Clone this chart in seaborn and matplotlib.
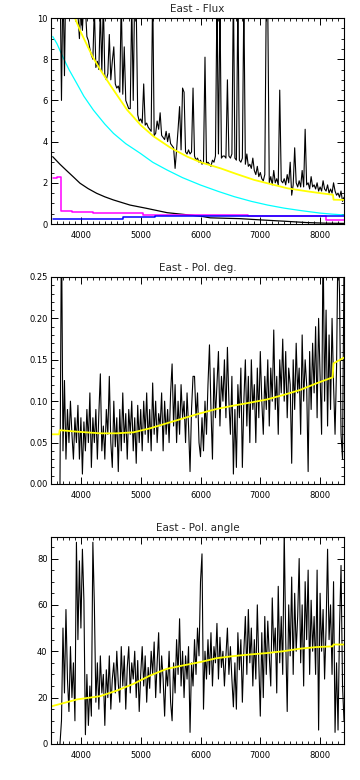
import numpy as np
import matplotlib
matplotlib.use("Agg")
import matplotlib.pyplot as plt
import seaborn as sns
from matplotlib.ticker import MultipleLocator, FormatStrFormatter

# wavelength grid of the observed spectra (Angstrom)
wave = np.arange(3650, 8401, 25)

# East - Flux : observed spectrum
flux = [12.5, 6.0, 12.0, 7.2, 12.5, 13.0, 12.0, 12.5, 11.5, 11.0,
        10.8, 10.4, 10.2, 9.0, 10.6, 9.4, 11.0, 10.5, 9.1, 8.9,
        8.5, 8.2, 8.0, 10.5, 7.6, 7.9, 7.5, 10.4, 7.4, 10.8,
        7.2, 7.0, 7.3, 9.2, 7.0, 7.9, 8.6, 6.8, 6.6, 6.7,
        6.4, 11.0, 6.3, 8.6, 6.0, 5.8, 5.6, 5.6, 10.8, 6.0,
        11.5, 10.6, 5.3, 5.0, 5.1, 4.9, 6.8, 4.8, 4.9, 4.7,
        4.6, 4.5, 11.5, 4.3, 4.4, 5.0, 4.6, 5.4, 4.3, 4.2,
        4.1, 4.5, 4.0, 4.4, 3.9, 3.8, 3.7, 2.7, 3.6, 4.6,
        5.7, 3.6, 6.6, 6.4, 3.5, 3.4, 3.6, 3.4, 3.5, 6.6,
        3.3, 3.1, 3.2, 3.0, 3.1, 2.9, 3.0, 8.1, 2.9, 3.0,
        2.9, 2.8, 3.1, 3.0, 3.3, 11.0, 3.4, 11.0, 3.2, 3.3,
        3.3, 3.2, 7.0, 3.3, 3.2, 3.4, 11.5, 3.2, 3.1, 11.0,
        3.1, 3.0, 3.2, 11.0, 2.9, 3.4, 2.8, 2.9, 2.7, 3.2,
        2.6, 2.4, 2.8, 2.3, 2.5, 2.2, 2.1, 2.4, 11.0, 10.5,
        2.0, 2.3, 1.9, 2.6, 2.0, 2.2, 1.9, 6.5, 2.1, 2.0,
        2.2, 1.9, 2.4, 2.0, 3.0, 1.4, 1.9, 3.7, 2.0, 1.8,
        2.1, 1.8, 2.6, 1.8, 4.6, 1.9, 2.0, 1.7, 2.3, 1.8,
        1.9, 1.7, 2.0, 1.6, 1.8, 1.6, 2.1, 1.7, 1.6, 1.9,
        1.5, 1.7, 1.5, 2.0, 1.6, 1.4, 1.5, 1.3, 1.6, 1.1,
        1.3]

# model components (yellow = total, cyan, black, magenta, blue)
fit_wave = [3650, 3800, 3900, 4000, 4100, 4200, 4322, 4500, 4770, 5000, 5217,
            5500, 5778, 6000, 6338, 6600, 6898, 7200, 7459, 7800, 8000, 8215,
            8225, 8400]
fit_flux = [12.2, 10.7, 10.0, 9.3, 8.7, 8.1, 7.5, 6.7, 5.55, 4.8, 4.25,
            3.7, 3.27, 3.0, 2.7, 2.43, 2.14, 1.92, 1.73, 1.58, 1.5, 1.42,
            1.18, 1.17]

cyan_wave = [3530, 3600, 3700, 3800, 3930, 4050, 4209, 4400, 4545, 4750, 4994,
             5200, 5442, 5700, 6002, 6300, 6562, 6850, 7123, 7400, 7683, 8000,
             8200, 8400]
cyan_flux = [9.1, 8.75, 8.1, 7.5, 6.83, 6.2, 5.53, 4.85, 4.4, 3.9, 3.43,
             3.0, 2.62, 2.25, 1.89, 1.58, 1.33, 1.1, 0.92, 0.77, 0.65, 0.53,
             0.48, 0.44]

comp_wave = [3528, 3650, 3762, 3880, 3985, 4120, 4264, 4400, 4542, 4821, 5100,
             5442, 6002, 6162, 6664, 7000, 7380, 7775, 8100, 8400]
comp_flux = [3.27, 2.9, 2.59, 2.27, 1.98, 1.72, 1.49, 1.32, 1.17, 0.92, 0.76,
             0.55, 0.38, 0.3, 0.26, 0.2, 0.14, 0.07, 0.04, 0.03]

mag_wave = [3530, 3595, 3660, 3846, 4207, 5043, 6794, 8100, 8400]
mag_flux = [2.22, 2.3, 0.62, 0.57, 0.52, 0.45, 0.4, 0.19, 0.19]

blue_wave = [3530, 4708, 5239, 8400]
blue_flux = [0.23, 0.33, 0.37, 0.37]

# East - Pol. deg.
pol_deg = [0.0, 0.32, 0.04, 0.125, 0.03, 0.09, 0.05, 0.10, 0.06, 0.03,
           0.08, 0.05, 0.095, 0.03, 0.08, 0.012, 0.075, 0.04, 0.09, 0.05,
           0.11, 0.02, 0.08, 0.05, 0.09, 0.03, 0.085, 0.133, 0.04, 0.07,
           0.03, 0.09, 0.06, 0.13, 0.05, 0.02, 0.1, 0.045, 0.08, 0.015,
           0.09, 0.04, 0.11, 0.05, 0.085, 0.03, 0.09, 0.06, 0.1, 0.04,
           0.08, 0.025, 0.095, 0.05, 0.09, 0.04, 0.1, 0.06, 0.11, 0.05,
           0.09, 0.04, 0.122, 0.06, 0.1, 0.05, 0.085, 0.07, 0.11, 0.04,
           0.1, 0.06, 0.09, 0.05, 0.11, 0.145, 0.07, 0.12, 0.05, 0.1,
           0.06, 0.12, 0.08, 0.1, 0.05, 0.11, 0.07, 0.015, 0.09, 0.13,
           0.13, 0.08, 0.11, 0.05, 0.033, 0.08, 0.04, 0.1, 0.06, 0.12,
           0.168, 0.09, 0.03, 0.14, 0.08, 0.12, 0.16, 0.07, 0.13, 0.1,
           0.15, 0.08, 0.165, 0.1, 0.06, 0.13, 0.012, 0.09, 0.02, 0.12,
           0.08, 0.14, 0.02, 0.1, 0.15, 0.07, 0.13, 0.05, 0.15, 0.09,
           0.12, 0.05, 0.14, 0.08, 0.16, 0.1, 0.06, 0.13, 0.09, 0.15,
           0.07, 0.14, 0.1, 0.186, 0.09, 0.13, 0.06, 0.15, 0.11, 0.175,
           0.1, 0.16, 0.08, 0.14, 0.12, 0.025, 0.15, 0.09, 0.17, 0.11,
           0.14, 0.06, 0.18, 0.1, 0.15, 0.12, 0.015, 0.16, 0.09, 0.17,
           0.11, 0.19, 0.08, 0.2, 0.13, 0.06, 0.3, 0.1, 0.21, 0.07,
           0.18, 0.09, 0.2, 0.12, 0.06, 0.14, 0.3, 0.23, 0.06, 0.03,
           0.27]

deg_fit_wave = [3500, 3635, 3645, 3932, 4319, 4598, 4877, 5156, 5435, 5713,
                5991, 6270, 6548, 6827, 7106, 7385, 7664, 7942, 8210, 8225, 8400]
deg_fit = [0.060, 0.060, 0.065, 0.0632, 0.0612, 0.0612, 0.0624, 0.0672, 0.0733,
           0.0793, 0.0853, 0.0906, 0.0946, 0.0982, 0.102, 0.1075, 0.1135,
           0.1216, 0.1288, 0.1457, 0.1526]

# East - Pol. angle
pol_ang = [0, 10, 50, 22, 58, 28, 14, 42, 20, 35,
           10, 87, 45, 79, 50, 84, 62, 4, 30, 8,
           25, 12, 87, 60, 18, 35, 15, 38, 22, 30,
           8, 32, 20, 38, 15, 28, 35, 22, 40, 26,
           18, 42, 25, 38, 15, 33, 42, 22, 35, 28,
           40, 20, 36, 14, 30, 42, 25, 38, 18, 33,
           24, 40, 30, 44, 20, 35, 48, 22, 38, 28,
           12, 32, 25, 40, 18, 10, 35, 22, 45, 30,
           54, 25, 40, 20, 38, 28, 42, 5, 35, 25,
           45, 30, 50, 38, 70, 82, 15, 40, 28, 45,
           30, 48, 25, 42, 35, 52, 28, 46, 33, 40,
           25, 38, 50, 30, 42, 28, 16, 35, 15, 48,
           32, 45, 18, 40, 55, 30, 58, 35, 50, 25,
           45, 28, 60, 35, 12, 48, 20, 55, 30, 53,
           38, 25, 63, 40, 50, 22, 68, 35, 55, 30,
           92, 45, 14, 60, 38, 72, 30, 65, 40, 55,
           80, 35, 60, 25, 70, 45, 75, 30, 62, 40,
           55, 30, 75, 6, 65, 40, 58, 28, 50, 84,
           45, 60, 30, 70, 5, 35, 6, 50, 77, 25,
           10]

ang_fit_wave = [3500, 3762, 3932, 4319, 4598, 4877, 5156, 5435, 5713, 5991,
                6270, 6548, 6827, 7106, 7385, 7664, 7942, 8210, 8225, 8400]
ang_fit = [16.2, 18.0, 19.2, 20.6, 23.0, 25.9, 29.5, 32.4, 33.9, 35.3,
           37.0, 37.9, 38.6, 39.2, 40.0, 41.1, 41.8, 42.1, 42.9, 42.9]

titles = ["East - Flux", "East - Pol. deg.", "East - Pol. angle"]

sns.set_style("white")
plt.rcParams['font.family'] = ['DejaVu Sans']

fig = plt.figure(figsize=(3.6, 7.8), dpi=100)
boxes = [[0.1417, 0.7128, 0.8139, 0.2641],
         [0.1417, 0.3795, 0.8139, 0.2654],
         [0.1417, 0.0462, 0.8139, 0.2654]]
axes = [fig.add_axes(b) for b in boxes]

# flux panel
ax = axes[0]
sns.lineplot(x=cyan_wave, y=cyan_flux, ax=ax, color="#00ffff", lw=0.9, estimator=None)
sns.lineplot(x=comp_wave, y=comp_flux, ax=ax, color="black", lw=0.9, estimator=None)
sns.lineplot(x=mag_wave, y=mag_flux, ax=ax, color="#ff00ff", lw=1.1, estimator=None,
             drawstyle="steps-post")
sns.lineplot(x=blue_wave, y=blue_flux, ax=ax, color="#0000ff", lw=1.1, estimator=None,
             drawstyle="steps-post")
sns.lineplot(x=wave, y=flux, ax=ax, color="black", lw=0.8, estimator=None)
sns.lineplot(x=fit_wave, y=fit_flux, ax=ax, color="#ffff00", lw=1.3, estimator=None)
ax.set_ylim(0, 10)
ax.yaxis.set_major_locator(MultipleLocator(2))
ax.yaxis.set_minor_locator(MultipleLocator(0.5))
ax.yaxis.set_major_formatter(FormatStrFormatter('%d'))

# polarisation degree panel
ax = axes[1]
sns.lineplot(x=wave, y=pol_deg, ax=ax, color="black", lw=0.8, estimator=None)
sns.lineplot(x=deg_fit_wave, y=deg_fit, ax=ax, color="#ffff00", lw=1.3, estimator=None)
ax.set_ylim(0, 0.25)
ax.yaxis.set_major_locator(MultipleLocator(0.05))
ax.yaxis.set_minor_locator(MultipleLocator(0.01))
ax.yaxis.set_major_formatter(FormatStrFormatter('%.2f'))

# polarisation angle panel
ax = axes[2]
sns.lineplot(x=wave, y=pol_ang, ax=ax, color="black", lw=0.8, estimator=None)
sns.lineplot(x=ang_fit_wave, y=ang_fit, ax=ax, color="#ffff00", lw=1.3, estimator=None)
ax.set_ylim(0, 89.3)
ax.yaxis.set_major_locator(MultipleLocator(20))
ax.yaxis.set_minor_locator(MultipleLocator(5))
ax.yaxis.set_major_formatter(FormatStrFormatter('%d'))

for ax, t in zip(axes, titles):
    ax.set_xlim(3500, 8400)
    ax.xaxis.set_major_locator(MultipleLocator(1000))
    ax.xaxis.set_minor_locator(MultipleLocator(100))
    ax.set_title(t, fontsize=7.5, pad=4)
    ax.set_xlabel("")
    ax.set_ylabel("")
    ax.tick_params(which="both", direction="in", top=True, right=True,
                   bottom=True, left=True, colors="black", labelsize=6)
    ax.tick_params(axis="x", which="major", length=5, width=0.7, pad=5)
    ax.tick_params(axis="y", which="major", length=5, width=0.7, pad=2.5)
    ax.tick_params(which="minor", length=2.5, width=0.6)
    for s in ax.spines.values():
        s.set_color("black")
        s.set_linewidth(0.8)

fig.savefig("out.png", dpi=100, facecolor="white")
